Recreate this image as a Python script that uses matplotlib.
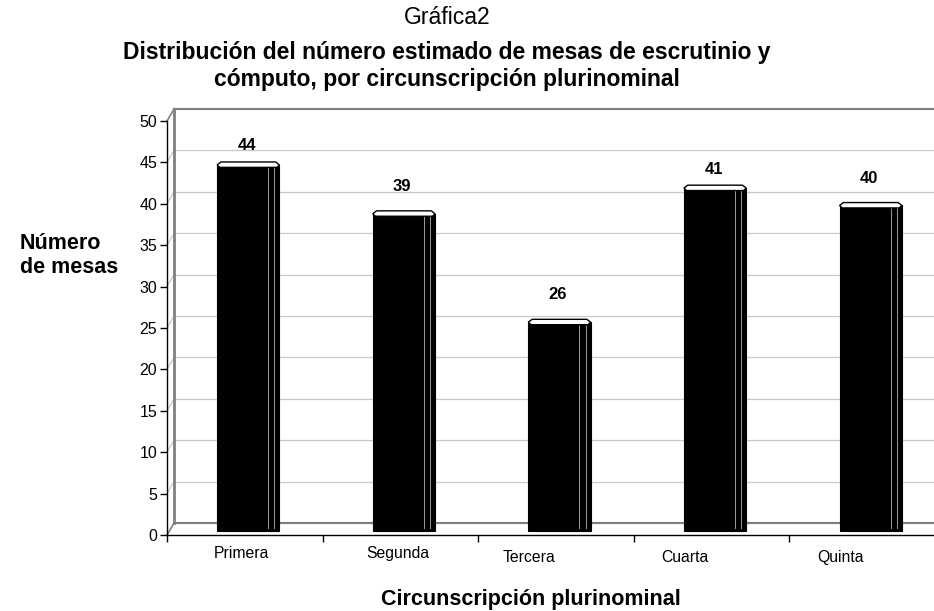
import matplotlib.pyplot as plt
from matplotlib.patches import Rectangle, Polygon
from matplotlib.transforms import offset_copy

plt.rcParams['font.family'] = ['Liberation Sans', 'DejaVu Sans']

# datos
circ = ['Primera', 'Segunda', 'Tercera', 'Cuarta', 'Quinta']
alturas = [44.2, 38.3, 25.2, 41.4, 39.3]   # altura visible de cada columna
etiquetas = [44, 39, 26, 41, 40]          # rotulo de datos

fig = plt.figure(figsize=(9.34, 6.11), dpi=100)
ax = fig.add_axes([167/934, 1-535/611, 778/934, (535-121)/611])
ax.set_xlim(0, 5)
ax.set_ylim(0, 50)

dx = 0.045     # fondo de la caja 3d
dy = 1.45
def fondo(v):
    return v + dy

# pared del fondo y lineas de division
for v in range(5, 50, 5):
    ax.plot([dx, 5+dx], [fondo(v), fondo(v)], color='#c8c8c8', lw=0.9, clip_on=False, zorder=1)
    ax.plot([0, dx], [v, fondo(v)], color='#c8c8c8', lw=0.9, clip_on=False, zorder=1)
ax.plot([dx, 5+dx], [fondo(50), fondo(50)], color='#808080', lw=1.6, clip_on=False, zorder=1)
ax.plot([dx, 5+dx], [fondo(0), fondo(0)], color='#808080', lw=1.6, clip_on=False, zorder=1)
ax.plot([dx, dx], [fondo(0), fondo(50)], color='#808080', lw=2, clip_on=False, zorder=1)
ax.plot([0, dx], [0, fondo(0)], color='#808080', lw=1.2, clip_on=False, zorder=1)
ax.plot([0, dx], [50, fondo(50)], color='#808080', lw=1.2, clip_on=False, zorder=1)

# columnas
w = 0.4
base = 0.5
for i in range(len(circ)):
    c = i + 0.5 + dx/2
    l, r = c - w/2, c + w/2
    t = base + alturas[i]
    ax.add_patch(Rectangle((l, base), w, alturas[i], facecolor='black', edgecolor='black',
                           lw=0.8, zorder=3, clip_on=False))
    for f in (0.32, 0.42):
        ax.plot([c + f*w, c + f*w], [base + 0.4, t - 0.2], color='#9a9a9a', lw=0.7, zorder=4,
                clip_on=False)
    tapa = [(l, t), (l + 0.06*w, t + 0.35), (r - 0.06*w, t + 0.35), (r, t),
            (r - 0.04*w, t - 0.3), (l + 0.04*w, t - 0.3)]
    ax.add_patch(Polygon(tapa, closed=True, facecolor='white', edgecolor='black', lw=1,
                         zorder=5, clip_on=False))
    ax.text(c - 0.01, etiquetas[i] + 3.1, str(etiquetas[i]), ha='center', va='center',
            fontsize=12, fontweight='bold', zorder=6)

# ejes
for s in ['top', 'right']:
    ax.spines[s].set_visible(False)
ax.spines['left'].set_color('black')
ax.spines['bottom'].set_color('black')
ax.spines['left'].set_linewidth(1)
ax.spines['bottom'].set_linewidth(1)
ax.set_yticks(range(0, 51, 5))
ax.set_xticks(range(0, 6))
ax.set_xticklabels([])
ax.tick_params(axis='both', direction='out', length=5, width=1, color='black', labelsize=11.5)
ax.tick_params(axis='y', pad=2)

desp = [(-3, 0), (-3, 0), (-27, -4), (-27, -4), (-27, -4)]
for i, nombre in enumerate(circ):
    tr = offset_copy(ax.transData, fig=fig, x=desp[i][0], y=desp[i][1], units='dots')
    ax.text(i + 0.5, -2.2, nombre, transform=tr, ha='center', va='center', fontsize=11.3,
            clip_on=False)

fig.text(447/934, 1-18/611, 'Gráfica2', ha='center', va='center', fontsize=16.5)
fig.text(447/934, 1-66/611, 'Distribución del número estimado de mesas de escrutinio y\ncómputo, por circunscripción plurinominal',
         ha='center', va='center', fontsize=16.5, fontweight='bold', linespacing=1.22)
fig.text(20/934, 1-255.5/611, 'Número\nde mesas', ha='left', va='center', fontsize=15.5,
         fontweight='bold', linespacing=1.15)
fig.text(531/934, 1-600/611, 'Circunscripción plurinominal', ha='center', va='center',
         fontsize=15.5, fontweight='bold')

fig.savefig('out.png', dpi=100)
